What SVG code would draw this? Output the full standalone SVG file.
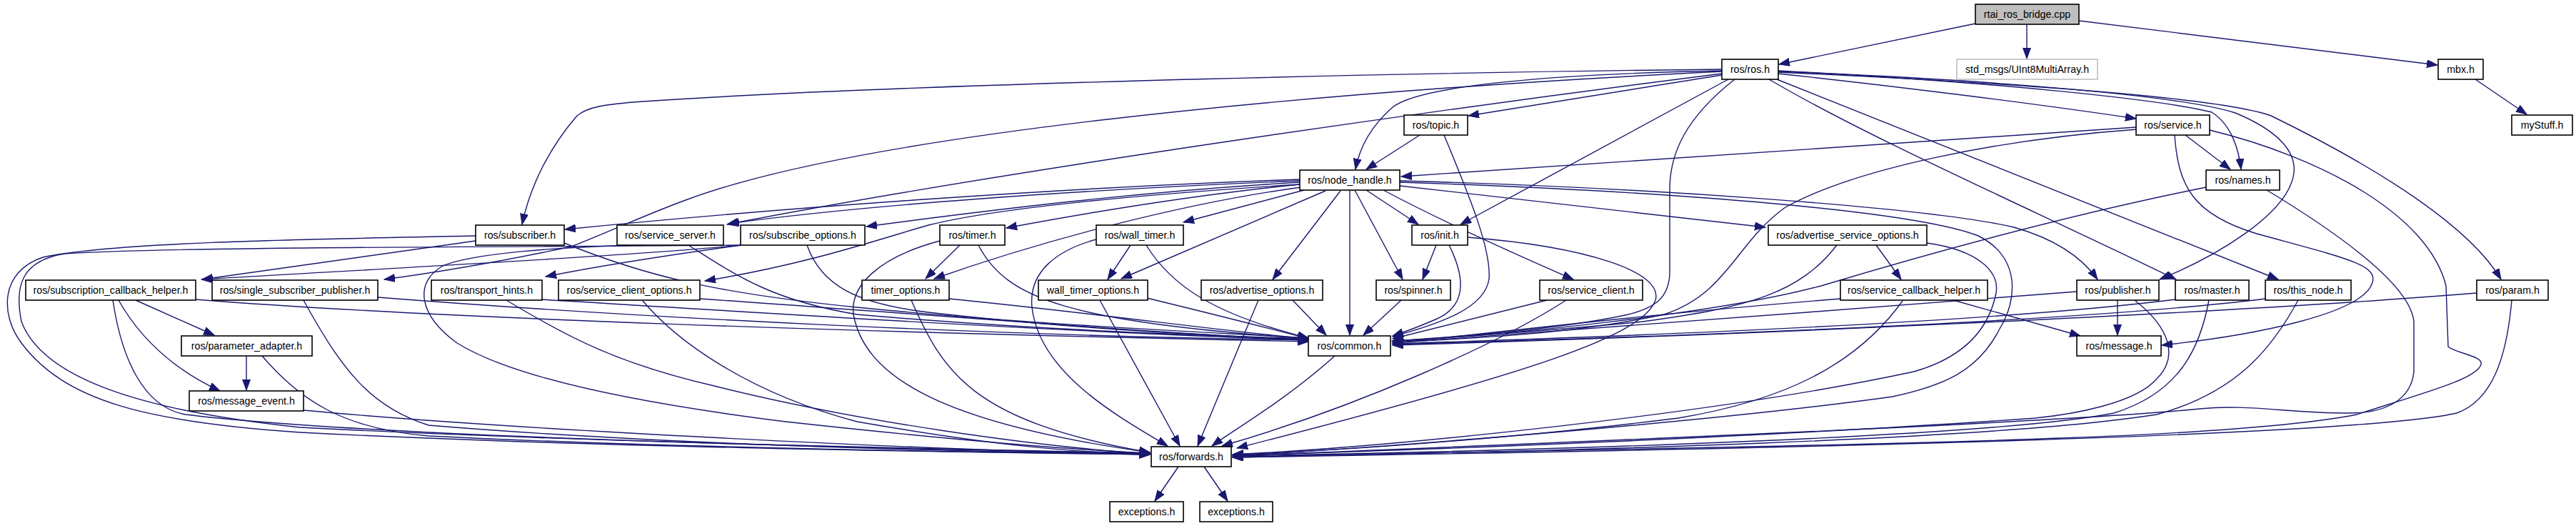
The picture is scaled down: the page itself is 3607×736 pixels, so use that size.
<svg xmlns="http://www.w3.org/2000/svg" width="3607" height="736" viewBox="0 0 3607 736">
<defs>
<marker id="a" markerWidth="16" markerHeight="12" refX="15" refY="5.5" orient="auto" markerUnits="userSpaceOnUse"><path d="M0,0 L15,5.5 L0,11 z" fill="#191970" stroke="#191970" stroke-width="1"/></marker>
<style>
.e path{fill:none;stroke:#191970;stroke-width:1.4;marker-end:url(#a)}
.n rect{fill:#fff;stroke:#000;stroke-width:1.6}
.n text{font-family:"Liberation Sans",Arial,sans-serif;font-size:14.2px;text-anchor:middle;fill:#000}
#n_rtai rect{fill:#bfbfbf}
#n_std rect{stroke:#bfbfbf}
</style>
</defs>
<rect width="3607" height="736" fill="#fff"/>
<g id="edges" class="e">
<path d="M2766,33 L2491,90"/>
<path d="M2838,34 L2838,82"/>
<path d="M2911,29 L3413,91"/>
<path d="M3466,111 L3538,160"/>
<path d="M2411,97 C2100,100 1300,115 900,142 C845,146 822,150 808,162 C768,208 742,262 731,314"/>
<path d="M2411,103 C2000,155 1400,240 1018,314"/>
<path d="M2411,99 C2150,104 1985,122 1950,150 C1918,178 1903,210 1898,237"/>
<path d="M2411,105 L2056,162"/>
<path d="M2420,111 L2045,314"/>
<path d="M2429,111 C2360,165 2338,215 2338,265 L2338,380 C2338,420 2312,432 2280,440 C2180,462 2030,472 1949,477"/>
<path d="M2490,103 C2650,120 2850,145 2991,166"/>
<path d="M2490,99 C2800,115 3030,140 3097,157 C3125,175 3135,210 3138,237"/>
<path d="M2490,100 C2800,112 3060,135 3130,158 C3195,185 3215,215 3212,242 C3205,300 3100,360 3024,391"/>
<path d="M2477,111 C2620,195 2850,295 3047,391"/>
<path d="M2488,111 L3190,391"/>
<path d="M2490,101 C2900,120 3120,140 3180,162 C3340,240 3460,320 3502,391"/>
<path d="M2411,100 C1800,130 1200,190 960,280 C900,302 840,330 800,345 C720,362 620,380 538,391"/>
<path d="M1820,251 C1500,262 1100,290 791,321"/>
<path d="M1820,253 C1500,266 1200,288 1020,313"/>
<path d="M1820,255 C1600,268 1400,292 1213,317"/>
<path d="M1820,258 C1650,275 1500,302 1409,319"/>
<path d="M1826,266 L1657,311"/>
<path d="M1822,262 C1650,285 1450,340 1308,390"/>
<path d="M1820,258 C1600,272 1400,290 1300,315 C1230,335 1130,370 987,393"/>
<path d="M1856,267 L1570,390"/>
<path d="M1877,267 L1782,391"/>
<path d="M1890,266 L1890,469"/>
<path d="M1897,266 L1964,391"/>
<path d="M1913,266 L1986,314"/>
<path d="M1937,266 C2020,310 2120,355 2203,391"/>
<path d="M1960,260 L2472,318"/>
<path d="M1960,253 C2300,262 2700,290 2820,318 C2880,335 2915,360 2937,391"/>
<path d="M1960,255 C2350,268 2680,295 2770,330 C2830,360 2825,420 2800,460 C2770,520 2720,540 2650,555 C2400,590 1950,625 1726,638"/>
<path d="M2627,343 L2662,391"/>
<path d="M2572,343 C2520,410 2450,430 2300,450 C2150,465 2020,472 1950,478"/>
<path d="M2698,340 C2770,350 2800,380 2795,410 C2785,460 2750,500 2680,520 C2400,580 1950,625 1726,636"/>
<path d="M2577,418 C2300,440 2100,465 1950,480"/>
<path d="M2735,420 L2913,470"/>
<path d="M2664,421 C2600,510 2500,560 2350,585 C2150,610 1900,630 1726,636"/>
<path d="M2991,178 L1962,247"/>
<path d="M2992,181 C2800,195 2600,235 2500,290 C2430,340 2420,410 2330,440 C2200,468 2050,474 1950,479"/>
<path d="M3060,189 L3123,237"/>
<path d="M3045,189 C3050,260 3070,300 3160,327 C3280,360 3330,370 3322,395 C3310,440 3150,470 3027,483"/>
<path d="M3094,182 C3250,220 3400,300 3425,400 L3428,485 C3440,495 3478,498 3474,510 C3468,530 3400,548 3300,580 C3100,620 2500,622 1726,640"/>
<path d="M3089,262 C2900,300 2700,355 2550,400 C2400,440 2100,470 1950,477"/>
<path d="M3174,266 C3280,330 3375,400 3380,450 L3380,520 C3376,560 3340,578 3290,578 C3200,578 3150,565 3080,572 C2900,590 2300,615 1726,638"/>
<path d="M2965,420 L2965,469"/>
<path d="M2908,408 C2600,432 2200,462 1950,480"/>
<path d="M2989,420 C3040,460 3050,500 3020,530 C2990,565 2900,580 2850,585 C2500,610 2000,630 1726,637"/>
<path d="M3046,419 C2800,450 2300,470 1950,481"/>
<path d="M3093,420 C3080,490 3050,550 2960,578 C2800,610 2200,630 1726,638"/>
<path d="M3172,418 C2900,452 2300,472 1950,482"/>
<path d="M3218,420 C3180,490 3130,550 3020,580 C2800,615 2200,632 1726,639"/>
<path d="M3468,410 C3100,440 2400,470 1950,483"/>
<path d="M3517,420 C3510,500 3490,560 3440,578 C3300,610 2500,628 1726,640"/>
<path d="M2011,343 L1992,391"/>
<path d="M2029,343 C2055,395 2050,430 2010,447 C1985,458 1965,465 1950,470"/>
<path d="M2055,332 C2220,345 2330,380 2318,420 C2300,470 2150,520 1732,627"/>
<path d="M1988,189 L1913,237"/>
<path d="M2022,189 C2060,280 2088,350 2085,390 C2080,430 2020,452 1950,471"/>
<path d="M1962,420 L1909,469"/>
<path d="M2166,420 L1950,474"/>
<path d="M2193,420 C2100,480 1900,570 1711,624"/>
<path d="M1810,420 L1857,469"/>
<path d="M1762,420 L1677,624"/>
<path d="M1606,417 C1700,440 1780,460 1832,474"/>
<path d="M1540,420 L1652,624"/>
<path d="M1583,343 L1551,391"/>
<path d="M1605,343 C1640,400 1700,440 1832,473"/>
<path d="M1535,335 C1480,350 1440,380 1445,430 C1455,520 1560,580 1635,624"/>
<path d="M1344,343 L1296,390"/>
<path d="M1370,343 C1410,420 1500,450 1832,474"/>
<path d="M1316,337 C1230,360 1190,400 1195,440 C1210,520 1300,590 1610,633"/>
<path d="M1329,418 C1550,440 1700,462 1832,474"/>
<path d="M1276,420 C1320,520 1360,590 1610,633"/>
<path d="M1038,343 C900,357 500,378 282,391"/>
<path d="M1038,343 C950,355 850,370 764,387"/>
<path d="M1038,343 C700,346 250,345 90,355 C30,365 20,400 30,450 C60,530 200,575 420,598 C800,618 1300,628 1610,634"/>
<path d="M1130,343 C1150,400 1200,425 1300,437 C1500,460 1700,470 1832,475"/>
<path d="M964,343 C1030,385 1080,420 1200,440 C1450,462 1700,470 1832,474"/>
<path d="M900,343 C780,345 660,355 620,372 C580,395 585,440 640,480 C720,530 900,565 1100,590 C1300,612 1500,630 1610,634"/>
<path d="M666,337 L283,391"/>
<path d="M790,340 C900,385 1000,410 1200,430 C1450,455 1700,465 1832,473"/>
<path d="M666,330 C400,335 150,340 60,360 C0,380 0,440 30,480 C90,560 200,590 420,605 C800,625 1300,632 1610,636"/>
<path d="M190,420 L300,469"/>
<path d="M166,420 C200,480 250,520 308,547"/>
<path d="M274,419 C600,445 1200,465 1832,478"/>
<path d="M158,420 C170,500 200,570 260,580 C500,610 1200,628 1610,634"/>
<path d="M529,416 C900,445 1400,470 1832,476"/>
<path d="M425,420 C480,520 520,570 600,595 C900,620 1300,632 1610,635"/>
<path d="M759,419 C1100,440 1500,465 1832,476"/>
<path d="M709,420 C800,475 870,510 1000,540 C1200,590 1450,625 1610,635"/>
<path d="M980,418 C1300,440 1600,465 1832,476"/>
<path d="M900,421 C950,480 1050,550 1200,590 C1400,625 1500,632 1610,636"/>
<path d="M345,498 L345,546"/>
<path d="M367,498 C420,560 480,600 600,610 C900,625 1300,632 1610,636"/>
<path d="M425,574 C700,600 1300,630 1610,636"/>
<path d="M1869,498 C1800,560 1730,600 1697,624"/>
<path d="M1650,653 L1617,701"/>
<path d="M1686,653 L1719,701"/>
</g>
<g id="n_rtai" class="n"><rect x="2766" y="6" width="145" height="28"/><text x="2838.5" y="25">rtai_ros_bridge.cpp</text></g>
<g id="n_ros" class="n"><rect x="2411" y="83" width="79" height="28"/><text x="2450.5" y="102">ros/ros.h</text></g>
<g id="n_std" class="n"><rect x="2740" y="83" width="197" height="28"/><text x="2838.5" y="102">std_msgs/UInt8MultiArray.h</text></g>
<g id="n_mbx" class="n"><rect x="3414" y="83" width="63" height="28"/><text x="3445.5" y="102">mbx.h</text></g>
<g id="n_topic" class="n"><rect x="1966" y="161" width="89" height="28"/><text x="2010.5" y="180">ros/topic.h</text></g>
<g id="n_service" class="n"><rect x="2991" y="161" width="103" height="28"/><text x="3042.5" y="180">ros/service.h</text></g>
<g id="n_mystuff" class="n"><rect x="3517" y="161" width="85" height="28"/><text x="3559.5" y="180">myStuff.h</text></g>
<g id="n_nh" class="n"><rect x="1820" y="238" width="140" height="28"/><text x="1890" y="257">ros/node_handle.h</text></g>
<g id="n_names" class="n"><rect x="3089" y="238" width="103" height="28"/><text x="3140.5" y="257">ros/names.h</text></g>
<g id="n_sub" class="n"><rect x="666" y="315" width="124" height="28"/><text x="728" y="334">ros/subscriber.h</text></g>
<g id="n_ss" class="n"><rect x="864" y="315" width="149" height="28"/><text x="938.5" y="334">ros/service_server.h</text></g>
<g id="n_so" class="n"><rect x="1037" y="315" width="174" height="28"/><text x="1124" y="334">ros/subscribe_options.h</text></g>
<g id="n_timer" class="n"><rect x="1316" y="315" width="91" height="28"/><text x="1361.5" y="334">ros/timer.h</text></g>
<g id="n_wt" class="n"><rect x="1535" y="315" width="122" height="28"/><text x="1596" y="334">ros/wall_timer.h</text></g>
<g id="n_init" class="n"><rect x="1977" y="315" width="78" height="28"/><text x="2016" y="334">ros/init.h</text></g>
<g id="n_aso" class="n"><rect x="2476" y="315" width="222" height="28"/><text x="2587" y="334">ros/advertise_service_options.h</text></g>
<g id="n_sch" class="n"><rect x="36" y="392" width="238" height="28"/><text x="155" y="411">ros/subscription_callback_helper.h</text></g>
<g id="n_ssp" class="n"><rect x="297" y="392" width="232" height="28"/><text x="413" y="411">ros/single_subscriber_publisher.h</text></g>
<g id="n_th" class="n"><rect x="604" y="392" width="155" height="28"/><text x="681.5" y="411">ros/transport_hints.h</text></g>
<g id="n_sco" class="n"><rect x="782" y="392" width="198" height="28"/><text x="881" y="411">ros/service_client_options.h</text></g>
<g id="n_to" class="n"><rect x="1207" y="392" width="122" height="28"/><text x="1268" y="411">timer_options.h</text></g>
<g id="n_wto" class="n"><rect x="1454" y="392" width="153" height="28"/><text x="1530.5" y="411">wall_timer_options.h</text></g>
<g id="n_ao" class="n"><rect x="1682" y="392" width="170" height="28"/><text x="1767" y="411">ros/advertise_options.h</text></g>
<g id="n_spin" class="n"><rect x="1927" y="392" width="104" height="28"/><text x="1979" y="411">ros/spinner.h</text></g>
<g id="n_sc" class="n"><rect x="2156" y="392" width="144" height="28"/><text x="2228" y="411">ros/service_client.h</text></g>
<g id="n_scbh" class="n"><rect x="2577" y="392" width="206" height="28"/><text x="2680" y="411">ros/service_callback_helper.h</text></g>
<g id="n_pub" class="n"><rect x="2908" y="392" width="115" height="28"/><text x="2965.5" y="411">ros/publisher.h</text></g>
<g id="n_master" class="n"><rect x="3046" y="392" width="103" height="28"/><text x="3097.5" y="411">ros/master.h</text></g>
<g id="n_thisnode" class="n"><rect x="3172" y="392" width="120" height="28"/><text x="3232" y="411">ros/this_node.h</text></g>
<g id="n_param" class="n"><rect x="3468" y="392" width="100" height="28"/><text x="3518" y="411">ros/param.h</text></g>
<g id="n_pa" class="n"><rect x="254" y="470" width="183" height="28"/><text x="345.5" y="489">ros/parameter_adapter.h</text></g>
<g id="n_common" class="n"><rect x="1832" y="470" width="115" height="28"/><text x="1889.5" y="489">ros/common.h</text></g>
<g id="n_msg" class="n"><rect x="2908" y="470" width="118" height="28"/><text x="2967" y="489">ros/message.h</text></g>
<g id="n_me" class="n"><rect x="265" y="547" width="160" height="28"/><text x="345" y="566">ros/message_event.h</text></g>
<g id="n_fwd" class="n"><rect x="1612" y="625" width="112" height="28"/><text x="1668" y="644">ros/forwards.h</text></g>
<g id="n_exc1" class="n"><rect x="1554" y="702" width="103" height="28"/><text x="1605.5" y="721">exceptions.h</text></g>
<g id="n_exc2" class="n"><rect x="1680" y="702" width="102" height="28"/><text x="1731" y="721">exceptions.h</text></g>
</svg>
